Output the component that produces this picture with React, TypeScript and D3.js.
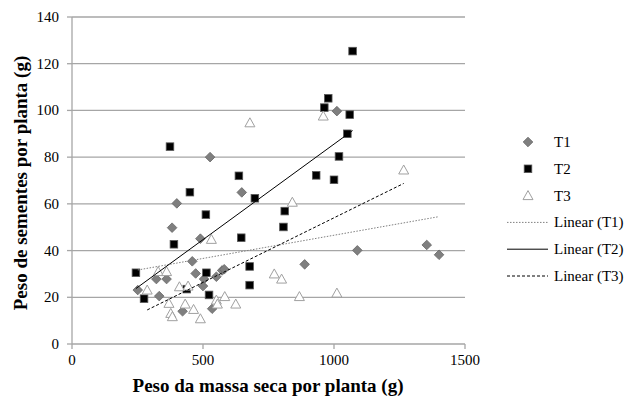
import React from "react";
import * as d3 from "d3";

// series: [massa seca (g), sementes (g)]
const t1: [number, number][] = [
  [527, 80], [1011, 99.7], [648, 64.9], [400, 60.2], [382, 49.8], [490, 45.1],
  [459, 35.4], [472, 30.2], [504, 27.8], [500, 24.8], [551, 28.8], [573, 31.5],
  [581, 32], [251, 23.1], [322, 27.8], [361, 27.8], [333, 20.5], [422, 14],
  [535, 15.1], [1089, 40.1], [1354, 42.4], [1401, 38.2], [888, 34.1],
];
const t2: [number, number][] = [
  [374, 84.5], [637, 72], [1071, 125.4], [978, 105.2], [963, 101.2], [1060, 98.2],
  [1051, 90], [1019, 80.3], [932, 72.2], [1000, 70.3], [450, 65], [698, 62.4],
  [511, 55.4], [389, 42.7], [646, 45.5], [244, 30.5], [513, 30.5], [678, 33.2],
  [678, 25.2], [438, 23.5], [275, 19.4], [523, 21], [812, 56.9], [807, 50.1],
];
const t3: [number, number][] = [
  [679, 94.7], [959, 97.6], [1266, 74.5], [532, 44.8], [329, 31], [361, 31],
  [287, 23.1], [410, 24.5], [443, 24.8], [370, 17.4], [432, 17.1], [377, 13.1],
  [383, 11.7], [464, 14.8], [490, 10.8], [551, 18.8], [555, 17.1], [583, 20.3],
  [625, 17.1], [772, 30], [841, 60.7], [800, 27.8], [868, 20.3], [1011, 21.8],
];
const xTicks = [0, 500, 1000, 1500];
const yTicks = [0, 20, 40, 60, 80, 100, 120, 140];
const seriesNames = ["T1", "T2", "T3"];
const trendNames = ["Linear (T1)", "Linear (T2)", "Linear (T3)"];

const W = 635;
const H = 399;
const font = "'Liberation Serif', 'Times New Roman', serif";
const gridColor = "#a6a6a6";

// least squares fit over the series' x range, like an Excel trendline
function trend(data: [number, number][]) {
  const mx = d3.mean(data, (d) => d[0])!;
  const my = d3.mean(data, (d) => d[1])!;
  const sxy = d3.sum(data, (d) => (d[0] - mx) * (d[1] - my));
  const sxx = d3.sum(data, (d) => (d[0] - mx) ** 2);
  const b = sxy / sxx;
  const a = my - b * mx;
  const [x0, x1] = d3.extent(data, (d) => d[0]) as [number, number];
  return [
    [x0, a + b * x0],
    [x1, a + b * x1],
  ] as [number, number][];
}

const Diamond = ({ x, y }: { x: number; y: number }) => (
  <path
    d={`M${x},${y - 4.8}L${x + 4.8},${y}L${x},${y + 4.8}L${x - 4.8},${y}Z`}
    fill="#7f7f7f"
    stroke="#666"
    strokeWidth={0.8}
  />
);
const Square = ({ x, y }: { x: number; y: number }) => (
  <rect x={x - 3.8} y={y - 3.8} width={7.6} height={7.6} fill="#000" stroke="#595959" strokeWidth={0.8} />
);
const Triangle = ({ x, y }: { x: number; y: number }) => (
  <path
    d={`M${x},${y - 5}L${x + 5},${y + 4}L${x - 5},${y + 4}Z`}
    fill="#fff"
    stroke="#a0a0a0"
    strokeWidth={1}
  />
);

export default function App() {
  const x = d3.scaleLinear().domain([0, 1500]).range([72, 465]);
  const y = d3.scaleLinear().domain([0, 140]).range([344, 17]);
  const line = d3
    .line<[number, number]>()
    .x((d) => x(d[0]))
    .y((d) => y(d[1]));

  const trendStyles = [
    { stroke: "#808080", dash: "1.5,1.5", width: 1 },
    { stroke: "#000", dash: undefined, width: 1 },
    { stroke: "#000", dash: "3,2", width: 1 },
  ];
  const trends = [t1, t2, t3].map(trend);

  const legendX = 528;
  const legendY0 = 142;
  const legendStep = 26.8;

  return (
    <svg
      width={W}
      height={H}
      style={{ position: "absolute", left: 0, top: 0, background: "#fff" }}
      fontFamily={font}
    >
      {/* gridlines */}
      {yTicks.slice(1).map((t) => (
        <line key={t} x1={x(0)} x2={x(1500)} y1={y(t)} y2={y(t)} stroke={gridColor} strokeWidth={1.3} />
      ))}
      {/* axes */}
      <line x1={x(0)} x2={x(0)} y1={y(0)} y2={y(140)} stroke={gridColor} strokeWidth={1.3} />
      <line x1={x(0)} x2={x(1500)} y1={y(0)} y2={y(0)} stroke={gridColor} strokeWidth={1.3} />
      {yTicks.map((t) => (
        <g key={t}>
          <line x1={x(0) - 5} x2={x(0)} y1={y(t)} y2={y(t)} stroke={gridColor} strokeWidth={1.3} />
          <text x={59} y={y(t) + 5} textAnchor="end" fontSize={15}>
            {t}
          </text>
        </g>
      ))}
      {xTicks.map((t) => (
        <g key={t}>
          <line x1={x(t)} x2={x(t)} y1={y(0)} y2={y(0) + 5} stroke={gridColor} strokeWidth={1.3} />
          <text x={x(t)} y={365} textAnchor="middle" fontSize={15}>
            {t}
          </text>
        </g>
      ))}

      {/* points */}
      {t1.map((d, i) => (
        <Diamond key={"a" + i} x={x(d[0])} y={y(d[1])} />
      ))}
      {t2.map((d, i) => (
        <Square key={"b" + i} x={x(d[0])} y={y(d[1])} />
      ))}
      {t3.map((d, i) => (
        <Triangle key={"c" + i} x={x(d[0])} y={y(d[1])} />
      ))}

      {/* trendlines */}
      {trends.map((tr, i) => (
        <path
          key={i}
          d={line(tr)!}
          fill="none"
          stroke={trendStyles[i].stroke}
          strokeWidth={trendStyles[i].width}
          strokeDasharray={trendStyles[i].dash}
        />
      ))}

      {/* axis titles */}
      <text x={268} y={392} textAnchor="middle" fontSize={19} fontWeight="bold">
        Peso da massa seca por planta (g)
      </text>
      <text
        transform={`translate(27,${183}) rotate(-90)`}
        textAnchor="middle"
        fontSize={19}
        fontWeight="bold"
      >
        Peso de sementes por planta (g)
      </text>

      {/* legend */}
      {seriesNames.map((n, i) => {
        const ly = legendY0 + i * legendStep;
        return (
          <g key={n}>
            {i === 0 && <Diamond x={legendX} y={ly} />}
            {i === 1 && <Square x={legendX} y={ly} />}
            {i === 2 && <Triangle x={legendX} y={ly} />}
            <text x={554} y={ly + 5} fontSize={15}>
              {n}
            </text>
          </g>
        );
      })}
      {trendNames.map((n, i) => {
        const ly = legendY0 + (i + 3) * legendStep;
        return (
          <g key={n}>
            <line
              x1={507}
              x2={548}
              y1={ly}
              y2={ly}
              stroke={trendStyles[i].stroke}
              strokeWidth={trendStyles[i].width}
              strokeDasharray={trendStyles[i].dash}
            />
            <text x={554} y={ly + 5} fontSize={15}>
              {n}
            </text>
          </g>
        );
      })}
    </svg>
  );
}
